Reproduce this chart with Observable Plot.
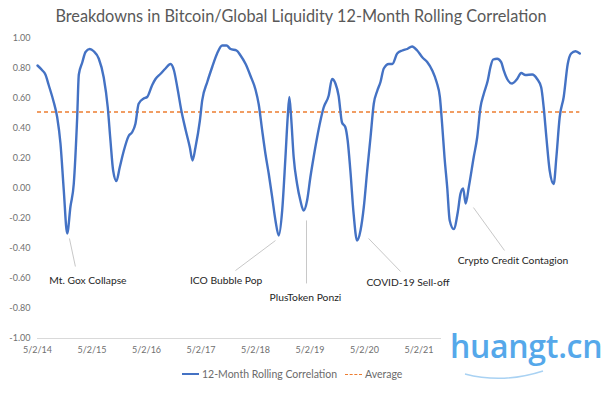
<!DOCTYPE html>
<html><head><meta charset="utf-8">
<script src="https://cdn.jsdelivr.net/npm/d3@7"></script>
<script src="https://cdn.jsdelivr.net/npm/@observablehq/plot@0.6"></script>
<style>
body{margin:0;background:#fff;width:611px;height:396px;position:relative;overflow:hidden;font-family:Lato,"Open Sans",sans-serif}
#title{position:absolute;top:6px;left:0;width:602px;text-align:center;font-size:16.3px;color:#595959;z-index:2}
#chart{position:absolute;top:0;left:0}
#legend{position:absolute;top:368px;left:0;width:611px;font-size:10.5px;color:#6b6b6b;z-index:2}
#legend .item{position:absolute;top:0;white-space:nowrap}
#legend .sw{display:inline-block;width:17px;height:0;vertical-align:middle;margin-right:3px;position:relative;top:-1px}
#wm{position:absolute;left:441px;top:326px;width:170px;height:56px;background:#fff;z-index:3}
#wm span{position:absolute;left:9px;top:-2px;font-size:32px;font-weight:600;color:#55a8ea;font-family:"Open Sans",Lato,sans-serif;letter-spacing:-0.3px}
#wm svg{position:absolute;left:0;top:0}
</style></head><body>
<div id="title">Breakdowns in Bitcoin/Global Liquidity 12-Month Rolling Correlation</div>
<div id="chart"></div>
<div id="legend">
  <div class="item" style="left:182px"><span class="sw" style="border-top:2px solid #4472C4"></span>12-Month Rolling Correlation</div>
  <div class="item" style="left:345px"><span class="sw" style="border-top:1.5px dashed #ED7D31"></span>Average</div>
</div>
<div id="wm"><span>huangt.cn</span><svg width="170" height="56"><path d="M24,48 Q62,58 102,45" fill="none" stroke="#a9d2f3" stroke-width="1.5"/></svg></div>
<script>
const dates = ["2014-05-02","2014-06-01","2014-06-24","2014-07-16","2014-08-19","2014-09-11","2014-10-03","2014-10-25","2014-11-17","2014-12-09","2014-12-31","2015-01-23","2015-02-03","2015-02-26","2015-03-20","2015-04-17","2015-05-14","2015-06-17","2015-07-20","2015-08-16","2015-09-03","2015-09-21","2015-10-13","2015-11-04","2015-12-01","2016-01-03","2016-01-26","2016-02-17","2016-03-10","2016-04-13","2016-05-06","2016-06-09","2016-07-01","2016-08-04","2016-09-06","2016-10-10","2016-11-01","2016-11-24","2016-12-21","2017-01-19","2017-02-16","2017-03-06","2017-03-26","2017-04-24","2017-05-10","2017-06-13","2017-07-16","2017-08-18","2017-09-21","2017-10-20","2017-11-16","2017-12-26","2018-01-22","2018-02-25","2018-03-30","2018-05-02","2018-05-24","2018-06-16","2018-07-08","2018-07-30","2018-08-22","2018-09-13","2018-10-05","2018-10-28","2018-11-19","2018-12-04","2018-12-15","2018-12-27","2019-01-13","2019-02-05","2019-02-27","2019-03-21","2019-04-13","2019-05-05","2019-05-27","2019-06-19","2019-07-11","2019-08-02","2019-09-05","2019-09-27","2019-10-20","2019-11-10","2019-12-03","2019-12-25","2020-01-10","2020-01-28","2020-02-19","2020-03-13","2020-04-05","2020-04-27","2020-05-20","2020-06-11","2020-07-03","2020-07-26","2020-08-17","2020-09-08","2020-10-12","2020-11-04","2020-12-07","2021-01-10","2021-02-12","2021-03-17","2021-04-20","2021-05-24","2021-06-26","2021-07-30","2021-08-28","2021-09-19","2021-10-04","2021-10-20","2021-11-07","2021-11-24","2021-12-21","2022-01-17","2022-02-04","2022-02-22","2022-03-11","2022-04-01","2022-05-04","2022-05-27","2022-06-18","2022-07-10","2022-08-06","2022-08-24","2022-09-11","2022-10-08","2022-11-04","2022-11-21","2022-12-14","2023-01-16","2023-02-19","2023-03-18","2023-04-15","2023-05-31","2023-07-03","2023-07-30","2023-08-16","2023-09-03","2023-09-25","2023-10-22","2023-11-09","2023-12-01","2023-12-28","2024-01-24","2024-02-16","2024-03-16","2024-04-14"];
const correlation = [0.82,0.79,0.76,0.69,0.575,0.475,0.30,-0.01,-0.30,-0.12,0.03,0.475,0.76,0.84,0.91,0.93,0.915,0.865,0.74,0.54,0.32,0.12,0.05,0.14,0.25,0.35,0.375,0.43,0.565,0.60,0.61,0.69,0.73,0.765,0.80,0.83,0.79,0.675,0.52,0.39,0.275,0.187,0.275,0.45,0.587,0.71,0.81,0.90,0.953,0.953,0.93,0.92,0.887,0.83,0.75,0.66,0.56,0.387,0.23,0.098,-0.058,-0.213,-0.313,-0.147,0.21,0.475,0.61,0.475,0.21,0.03,-0.08,-0.147,-0.08,0.075,0.21,0.34,0.45,0.54,0.62,0.73,0.70,0.62,0.44,0.41,0.32,0.12,-0.17,-0.347,-0.28,-0.125,0.12,0.34,0.565,0.65,0.71,0.80,0.83,0.83,0.90,0.92,0.93,0.947,0.92,0.875,0.843,0.787,0.71,0.61,0.43,0.21,0.01,-0.213,-0.27,-0.158,-0.036,0.00,-0.10,0.01,0.21,0.34,0.54,0.63,0.72,0.81,0.86,0.865,0.843,0.787,0.73,0.70,0.73,0.77,0.757,0.76,0.73,0.675,0.54,0.34,0.12,0.03,0.21,0.475,0.61,0.83,0.90,0.915,0.90];
const average = 0.51;

const yTicks = [-1,-0.8,-0.6,-0.4,-0.2,0,0.2,0.4,0.6,0.8,1];
const xTickDates = ["2014-05-02","2015-05-02","2016-05-02","2017-05-02","2018-05-02","2019-05-02","2020-05-02","2021-05-02"];
const xTickLabels = ["5/2/14","5/2/15","5/2/16","5/2/17","5/2/18","5/2/19","5/2/20","5/2/21"];
const xDomain = ["2014-05-02","2024-05-02"];

const annLabels = ["Mt. Gox Collapse","ICO Bubble Pop","PlusToken Ponzi","COVID-19 Sell-off","Crypto Credit Contagion"];
const annTextDate = ["2015-04-05","2017-10-17","2019-04-02","2021-02-17","2023-01-22"];
const annTextValue = [-0.613,-0.613,-0.727,-0.627,-0.48];
const annLineDate1 = ["2014-12-02","2018-09-13","2019-04-09","2020-05-29","2022-05-02"];
const annLineValue1 = [-0.333,-0.347,-0.213,-0.333,-0.127];
const annLineDate2 = ["2015-01-11","2017-12-19","2019-04-09","2020-12-29","2022-11-26"];
const annLineValue2 = [-0.52,-0.547,-0.633,-0.553,-0.413];

const P = s => new Date(s + "T00:00:00Z");
const series = dates.map((d, i) => ({date: P(d), value: correlation[i]}));
const anns = annLabels.map((t, i) => ({
  label: t, tx: P(annTextDate[i]), ty: annTextValue[i],
  x1: P(annLineDate1[i]), y1: annLineValue1[i], x2: P(annLineDate2[i]), y2: annLineValue2[i]
}));
const tickD = xTickDates.map(P);

const chart = Plot.plot({
  width: 611, height: 370,
  marginTop: 38, marginBottom: 32, marginLeft: 37, marginRight: 29,
  style: {fontFamily: "Lato, 'Open Sans', sans-serif", fontSize: "9px", color: "#707070", background: "transparent"},
  x: {type: "utc", domain: xDomain.map(P), label: null},
  y: {domain: [-1, 1], label: null},
  marks: [
    Plot.ruleY([-1], {stroke: "#d9d9d9", strokeWidth: 1}),
    Plot.axisY({ticks: yTicks, tickFormat: d => d.toFixed(2), tickSize: 0, tickPadding: 7, label: null}),
    Plot.axisX({ticks: tickD, tickFormat: d => xTickLabels[tickD.findIndex(t => +t === +d)], tickSize: 0, tickPadding: 8, label: null}),
    Plot.ruleY([average], {x1: series[0].date, x2: series[series.length - 1].date, stroke: "#ED7D31", strokeWidth: 1.6, strokeDasharray: "4,3"}),
    Plot.link(anns, {x1: "x1", y1: "y1", x2: "x2", y2: "y2", stroke: "#c8c8c8", strokeWidth: 1}),
    Plot.line(series, {x: "date", y: "value", stroke: "#4472C4", strokeWidth: 2.4, curve: "monotone-x"}),
    Plot.text(anns, {x: "tx", y: "ty", text: "label", fontSize: 10.3, fill: "#262626"})
  ]
});
document.getElementById("chart").appendChild(chart);
</script>
</body></html>
